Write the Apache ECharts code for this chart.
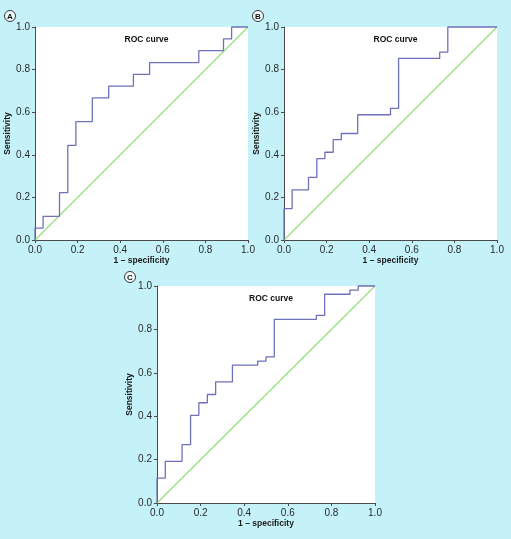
<!DOCTYPE html>
<html>
<head>
<meta charset="utf-8">
<script src="https://cdn.jsdelivr.net/npm/echarts@6/dist/echarts.min.js"></script>
<style>
html,body{margin:0;padding:0;background:#c5f2f9;}
#chart{width:511px;height:539px;}
</style>
</head>
<body>
<div id="chart"></div>
<script>
// Panel A ROC curve points (1 - specificity, sensitivity)
const fprA = [0,0,0.038,0.038,0.115,0.115,0.154,0.154,0.192,0.192,0.269,0.269,0.346,0.346,0.462,0.462,0.538,0.538,0.769,0.769,0.885,0.885,0.923,0.923,1];
const tprA = [0,0.056,0.056,0.111,0.111,0.222,0.222,0.444,0.444,0.556,0.556,0.667,0.667,0.722,0.722,0.778,0.778,0.833,0.833,0.889,0.889,0.944,0.944,1,1];
// Panel B
const fprB = [0,0,0.038,0.038,0.115,0.115,0.154,0.154,0.192,0.192,0.231,0.231,0.269,0.269,0.346,0.346,0.5,0.5,0.538,0.538,0.731,0.731,0.769,0.769,1];
const tprB = [0,0.147,0.147,0.235,0.235,0.294,0.294,0.382,0.382,0.412,0.412,0.471,0.471,0.5,0.5,0.588,0.588,0.618,0.618,0.853,0.853,0.882,0.882,1,1];
// Panel C
const fprC = [0,0,0.038,0.038,0.115,0.115,0.154,0.154,0.192,0.192,0.231,0.231,0.269,0.269,0.346,0.346,0.462,0.462,0.5,0.5,0.538,0.538,0.731,0.731,0.769,0.769,0.885,0.885,0.923,0.923,1];
const tprC = [0,0.115,0.115,0.192,0.192,0.269,0.269,0.404,0.404,0.462,0.462,0.5,0.5,0.558,0.558,0.635,0.635,0.654,0.654,0.673,0.673,0.846,0.846,0.865,0.865,0.962,0.962,0.981,0.981,1,1];
// Reference diagonal
const diagX = [0,1];
const diagY = [0,1];
// Tick labels
const tickValues = [0,0.2,0.4,0.6,0.8,1.0];
const tickLabels = ['0.0','0.2','0.4','0.6','0.8','1.0'];
const panelLetters = ['A','B','C'];
const titleText = 'ROC curve';
const xName = '1 \u2013 specificity';
const yName = 'Sensitivity';

const FONT = '"Liberation Sans", Arial, Helvetica, sans-serif';
const BLUE = '#6d72b9';
const GREEN = '#8fdf74';

const grids = [
  {left:35, top:27, width:213, height:213},
  {left:284, top:27, width:213, height:213},
  {left:157, top:286, width:218, height:217}
];
const panels = [[fprA,tprA],[fprB,tprB],[fprC,tprC]];

function zip(xs, ys){ return xs.map((x,i)=>[x, ys[i]]); }

const axisCommon = {
  type:'value', min:0, max:1, interval:0.2,
  axisLine:{show:true, lineStyle:{color:'#4a4a4a', width:1}},
  axisTick:{show:true, length:3, inside:false, lineStyle:{color:'#4a4a4a'}},
  splitLine:{show:false},
  axisLabel:{color:'#2a2a2a', fontSize:10, fontFamily:FONT, margin:5,
    formatter:function(v){ const i = tickValues.findIndex(t=>Math.abs(t-v)<1e-6); return i>=0?tickLabels[i]:''; }},
  nameLocation:'middle',
  nameTextStyle:{color:'#1a1a1a', fontSize:8.5, fontWeight:'bold', fontFamily:FONT}
};

const xAxis = grids.map((g,i)=>Object.assign({}, axisCommon, {gridIndex:i, name:xName, nameGap:14}));
const yAxis = grids.map((g,i)=>Object.assign({}, axisCommon, {gridIndex:i, name:yName, nameGap:20}));

const series = [];
panels.forEach((p,i)=>{
  series.push({type:'line', xAxisIndex:i, yAxisIndex:i, data:zip(diagX,diagY), symbol:'none',
    lineStyle:{color:GREEN, width:1.1}, silent:true, clip:false, z:2});
  series.push({type:'line', xAxisIndex:i, yAxisIndex:i, data:zip(p[0],p[1]), symbol:'none',
    lineStyle:{color:BLUE, width:1.3}, silent:true, clip:false, z:3});
});

const titles = grids.map(g=>({text:titleText, left:g.left+g.width/2, top:g.top+3, textAlign:'center',
  textStyle:{fontSize:8.5, fontWeight:'bold', color:'#111', fontFamily:FONT}}));

const letterPos = [[10,16],[258,16],[130,277]];
const graphic = [];
letterPos.forEach((pos,i)=>{
  graphic.push({type:'circle', shape:{cx:pos[0], cy:pos[1], r:5.5}, style:{fill:'#f4fdfe', stroke:'#222', lineWidth:0.9}});
  graphic.push({type:'text', x:pos[0], y:pos[1]+0.5, style:{text:panelLetters[i], fill:'#111', font:'bold 8px '+FONT, align:'center', verticalAlign:'middle'}});
});

const chart = echarts.init(document.getElementById('chart'), null, {renderer:'canvas'});
chart.setOption({
  backgroundColor:'#c5f2f9',
  animation:false,
  title:titles,
  grid:grids.map(g=>Object.assign({}, g, {show:true, backgroundColor:'#ffffff', borderWidth:0, containLabel:false})),
  xAxis:xAxis,
  yAxis:yAxis,
  series:series,
  graphic:graphic
});
</script>
</body>
</html>
